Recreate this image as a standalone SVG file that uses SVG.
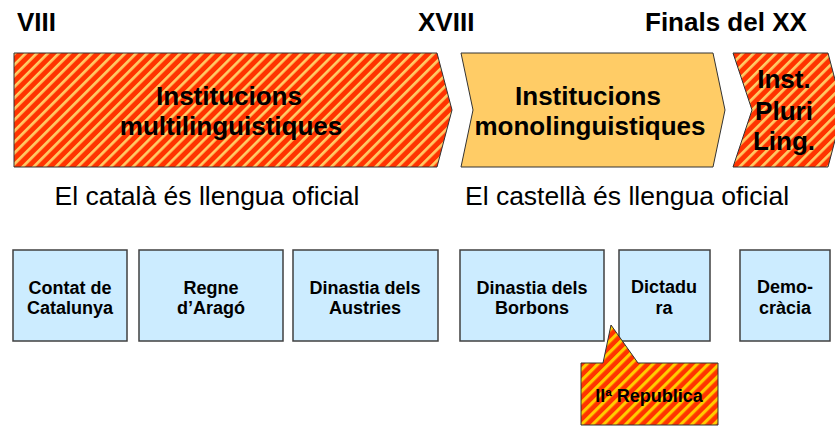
<svg xmlns="http://www.w3.org/2000/svg" width="835" height="426" viewBox="0 0 835 426">
<defs>
<pattern id="stripeA" patternUnits="userSpaceOnUse" width="20" height="7.8" patternTransform="rotate(-45)">
<rect width="20" height="7.8" fill="#FF3300"/>
<rect y="0" width="20" height="2.7" fill="#FFCC66"/>
</pattern>
<pattern id="stripeB" patternUnits="userSpaceOnUse" width="20" height="7.8" patternTransform="rotate(-45)">
<rect width="20" height="7.8" fill="#FF3300"/>
<rect y="0" width="20" height="3.2" fill="#FFCC00"/>
</pattern>
</defs>
<style>
.hdr{font-family:"Liberation Sans",Arial,sans-serif;font-weight:bold;font-size:26px;fill:#000}
.big{font-family:"Liberation Sans",Arial,sans-serif;font-weight:bold;font-size:26px;fill:#000;text-anchor:middle}
.sub{font-family:"Liberation Sans",Arial,sans-serif;font-size:26.5px;fill:#000;text-anchor:middle}
.box{fill:#CCECFF;stroke:#404040;stroke-width:1.5}
.bt{font-family:"Liberation Sans",Arial,sans-serif;font-weight:bold;font-size:18px;fill:#000;text-anchor:middle}
.shape{stroke:#333;stroke-width:1}
</style>
<rect width="835" height="426" fill="#fff"/>
<g id="headers">
<text class="hdr" x="17" y="31">VIII</text>
<text class="hdr" x="418" y="31">XVIII</text>
<text class="hdr" x="645" y="31">Finals del XX</text>
</g>
<g id="arrow-multi">
<path class="shape" d="M14,53 L437,53 L452,110 L437,167 L14,167 Z" fill="url(#stripeA)"/>
<text class="big" x="229" y="105">Institucions</text>
<text class="big" x="231" y="135">multilinguistiques</text>
</g>
<g id="arrow-mono">
<path class="shape" d="M461,53 L713,53 L725,110 L713,167 L461,167 L473,110 Z" fill="#FFCC66"/>
<text class="big" x="588" y="105">Institucions</text>
<text class="big" x="590" y="135">monolinguistiques</text>
</g>
<g id="arrow-pluri">
<path class="shape" d="M733,53 L828,53 L843,110 L828,167 L733,167 L752,110 Z" fill="url(#stripeA)"/>
<text class="big" x="784" y="88">Inst.</text>
<text class="big" x="784" y="120">Pluri</text>
<text class="big" x="784" y="150">Ling.</text>
</g>
<g id="subtitles">
<text class="sub" x="207" y="205">El català és llengua oficial</text>
<text class="sub" x="627" y="205">El castellà és llengua oficial</text>
</g>
<g id="box-contat">
<rect class="box" x="13" y="250" width="114" height="91"/>
<text class="bt" x="70" y="294">Contat de</text>
<text class="bt" x="70" y="314">Catalunya</text>
</g>
<g id="box-regne">
<rect class="box" x="139" y="250" width="144" height="91"/>
<text class="bt" x="211" y="294">Regne</text>
<text class="bt" x="211" y="314">d’Aragó</text>
</g>
<g id="box-austries">
<rect class="box" x="293" y="250" width="145" height="91"/>
<text class="bt" x="365" y="294">Dinastia dels</text>
<text class="bt" x="365" y="314">Austries</text>
</g>
<g id="box-borbons">
<rect class="box" x="460" y="250" width="144" height="91"/>
<text class="bt" x="532" y="294">Dinastia dels</text>
<text class="bt" x="532" y="314">Borbons</text>
</g>
<g id="box-dictadura">
<rect class="box" x="619" y="250" width="91" height="91"/>
<text class="bt" x="664" y="293">Dictadu</text>
<text class="bt" x="664" y="314">ra</text>
</g>
<g id="box-democracia">
<rect class="box" x="740" y="250" width="90" height="91"/>
<text class="bt" x="785" y="293">Demo-</text>
<text class="bt" x="785" y="314">cràcia</text>
</g>
<g id="callout-republica">
<path class="shape" d="M581,363 L603,363 L611,325 L638,363 L718,363 L718,425 L581,425 Z" fill="url(#stripeB)"/>
<text class="bt" x="649" y="402">IIª Republica</text>
</g>
<g id="connectors"/>
</svg>
